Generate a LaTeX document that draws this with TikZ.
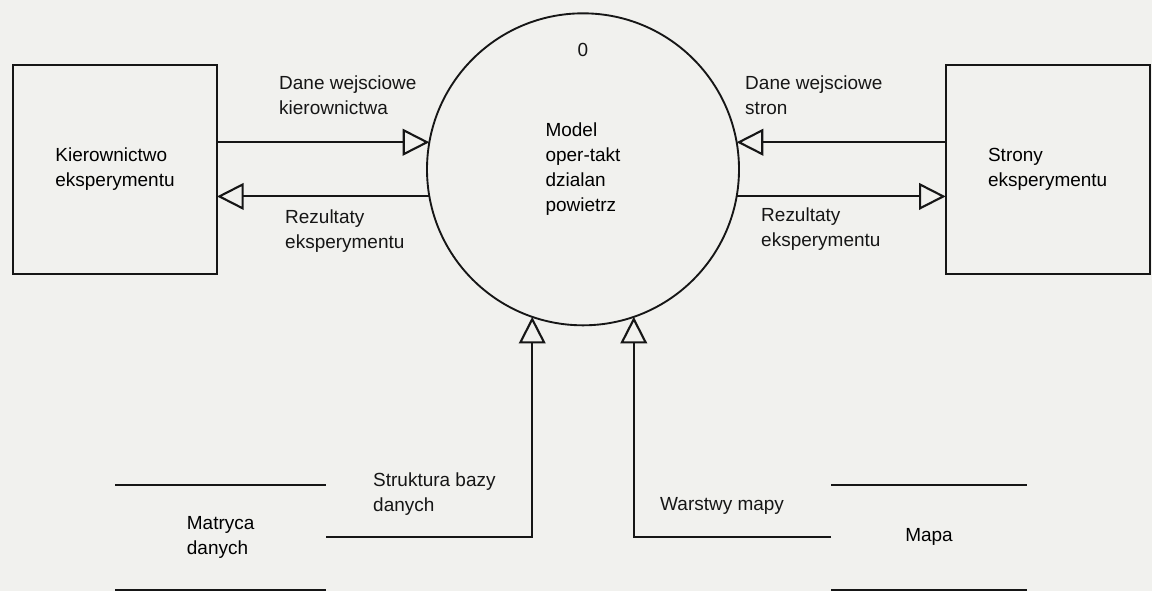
\documentclass[tikz,border=0pt]{standalone}
\usepackage{fontspec}
\setmainfont{Liberation Sans}
\usetikzlibrary{arrows.meta}
\definecolor{paper}{RGB}{241,241,238}
\definecolor{ink}{RGB}{22,22,22}

\begin{document}
\begin{tikzpicture}[
    font=\fontsize{16.2}{21.3}\selectfont,
    box/.style={draw=ink, line width=1.8pt, minimum width=6.12cm, minimum height=6.27cm, align=left, inner sep=0pt, outer sep=0pt},
    process/.style={circle, draw=ink, line width=1.6pt, minimum size=9.36cm, align=left, inner sep=0pt, outer sep=0pt},
    store/.style={minimum height=3.15cm, align=left, inner sep=0pt, outer sep=0pt},
    storeline/.style={draw=ink, line width=1.8pt},
    flow/.style={draw=ink, line width=1.8pt, -{Triangle[open, length=0.8cm, width=0.8cm]}},
    lbl/.style={anchor=west, align=left, inner sep=0pt, text=ink}
]
    % Tlo
    \fill[paper] (0,0) rectangle (34.56,17.73);
    \useasboundingbox (0,0) rectangle (34.56,17.73);

    % Obiekty zewnetrzne
    \node[box] (kier) at (3.45,12.65) {Kierownictwo\\eksperymentu};
    \node[box] (strony) at (31.43,12.65) {Strony\\eksperymentu};

    % Proces
    \node[process] (model) at (17.49,12.65) {Model\\oper-takt\\dzialan\\powietrz};
    \node[text=ink] (nr) at (17.49,16.23) {0};

    % Magazyny danych
    \node[store, minimum width=6.33cm] (matryca) at (6.62,1.61) {Matryca\\danych};
    \node[store, minimum width=5.88cm] (mapa) at (27.87,1.61) {Mapa};
    \draw[storeline] (matryca.north west) -- (matryca.north east);
    \draw[storeline] (matryca.south west) -- (matryca.south east);
    \draw[storeline] (mapa.north west) -- (mapa.north east);
    \draw[storeline] (mapa.south west) -- (mapa.south east);

    % Przeplywy
    \draw[flow] (kier.east |- model.170) -- (model.170);
    \draw[flow] (model.190) -- (model.190 -| kier.east);
    \draw[flow] (strony.west |- model.10) -- (model.10);
    \draw[flow] (model.350) -- (model.350 -| strony.west);
    \draw[flow] (matryca.east) -| (model.251);
    \draw[flow] (mapa.west) -| (model.289);

    % Etykiety przeplywow
    \node[lbl] (l1) at (8.37,14.88) {Dane wejsciowe\\kierownictwa};
    \node[lbl] (l2) at (8.55,10.80) {Rezultaty\\eksperymentu};
    \node[lbl] (l3) at (22.35,14.88) {Dane wejsciowe\\stron};
    \node[lbl] (l4) at (22.83,10.85) {Rezultaty\\eksperymentu};
    \node[lbl] (l5) at (11.19,2.90) {Struktura bazy\\danych};
    \node[lbl] (l6) at (19.80,2.55) {Warstwy mapy};
\end{tikzpicture}
\end{document}
